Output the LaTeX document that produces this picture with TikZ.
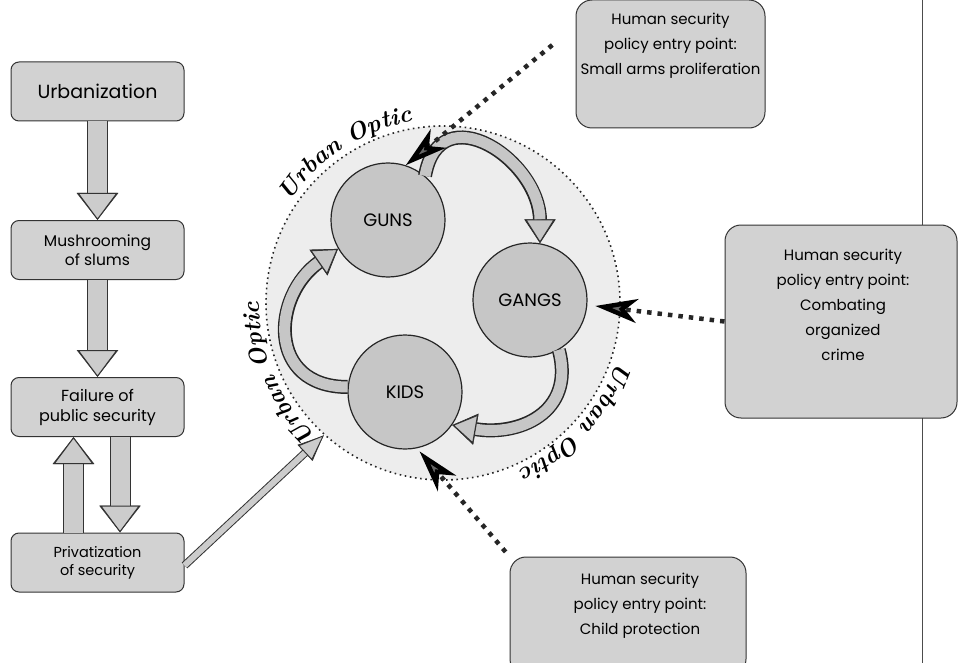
\documentclass[tikz,border=0pt]{standalone}
\usepackage{fontspec}
\newfontfamily\geo{Poppins}
\usetikzlibrary{arrows.meta,decorations.text}

\tikzset{
  stage/.style={draw=black!80, line width=1pt, fill=gray!35, rounded corners=8pt,
    minimum width=173pt, minimum height=59pt, align=center, font=\geo\fontsize{15.5}{19}\selectfont},
  entry/.style={draw=black!80, line width=1pt, fill=gray!35, rounded corners=16pt},
  entrytext/.style={align=center, font=\geo\fontsize{15}{25}\selectfont},
  actor/.style={circle, draw=black!85, line width=1.2pt, fill=gray!45, minimum size=114pt,
    inner sep=0pt, font=\geo\fontsize{18}{18}\selectfont},
  optic ring/.style={circle, minimum size=354pt, fill=gray!14, draw=black!85,
    line width=1.6pt, dash pattern=on 1.6pt off 3.6pt},
  flow/.style={line width=19pt, draw=gray!40,
    -{Triangle[length=27pt,width=40pt,fill=gray!40,color=black!80,line width=1pt]},
    preaction={draw=black!80, line width=21pt, -{Triangle[length=27pt,width=40pt]}}},
  turn/.style={line width=11pt, draw=gray!45,
    -{Triangle[length=24pt,width=30pt,fill=gray!45,color=black!80,line width=1.2pt]},
    preaction={draw=black!85, line width=14pt, -{Triangle[length=24pt,width=30pt]}}},
  feed/.style={line width=6pt, draw=gray!40,
    -{Triangle[length=26pt,width=20pt,fill=gray!40,color=black!80,line width=0.9pt]},
    preaction={draw=black!80, line width=8pt, -{Triangle[length=26pt,width=20pt]}}},
  hit/.style={line width=4.5pt, dash pattern=on 4.5pt off 6pt, black!85,
    -{Stealth[length=42pt,width=24pt,inset=12pt,fill=black!60,color=black]}},
  optic/.style={decorate, decoration={text along path, text align=center,
    text={|\fontsize{24}{24}\selectfont\bfseries\itshape|Urban Optic}}}
}

\begin{document}
\begin{tikzpicture}[x=1pt,y=1pt]
  \useasboundingbox (0,0) rectangle (958,-663);

  % page edge
  \draw[black!70, line width=0.6pt] (922,0) -- (922,-663);

  % the urban optic
  \node[optic ring] (ring) at (443,-303) {};
  \path[optic] (ring.center) ++(153:184) arc[start angle=153, end angle=93, radius=184];
  \path[optic] (ring.center) ++(233:184) arc[start angle=233, end angle=173, radius=184];
  \path[optic] (ring.center) ++(-12:184) arc[start angle=-12, end angle=-72, radius=184];

  \node[actor] (guns) at (388,-220) {GUNS};
  \node[actor] (gangs) at (530,-300) {GANGS};
  \node[actor] (kids) at (405,-392) {KIDS};

  \draw[turn] (guns.50) to[out=80, in=90, looseness=1.6] (gangs.80);
  \draw[turn] (gangs.-60) to[out=-75, in=-10, looseness=1.3] (kids.-35);
  \draw[turn] (kids.175) to[out=180, in=215, looseness=1.5] (guns.210);

  % causes
  \node[stage, font=\geo\fontsize{19}{22}\selectfont] (urb) at (97.5,-91.5) {Urbanization};
  \node[stage] (slum) at (97.5,-250) {Mushrooming\\of slums};
  \node[stage, font=\geo\fontsize{16}{20}\selectfont] (fail) at (97.5,-407) {Failure of\\public security};
  \node[stage, font=\geo\fontsize{14.5}{18}\selectfont] (priv) at (97.5,-562.5) {Privatization\\of security};

  \draw[flow] (urb.south) -- (slum.north);
  \draw[flow] (slum.south) -- (fail.north);
  \draw[flow] ([xshift=22.5pt]fail.south) -- ([xshift=22.5pt]priv.north);
  \draw[flow] ([xshift=-24pt]priv.north) -- ([xshift=-24pt]fail.south);
  \draw[feed] ([yshift=-3pt]priv.east) -- (ring.228);

  % policy entry points
  \node[entry, minimum width=189pt, minimum height=128pt] (sarms) at (670.5,-64) {};
  \node[entrytext, anchor=north] (sarmstxt) at ([yshift=-10pt]sarms.north) {Human security\\policy entry point:\\Small arms proliferation};
  \node[entry, minimum width=232pt, minimum height=193pt] (crime) at (841,-321.5) {};
  \node[entrytext] (crimetxt) at (843,-305) {Human security\\policy entry point:\\Combating\\organized\\crime};
  \node[entry, minimum width=236pt, minimum height=118pt] (child) at (628,-616) {};
  \node[entrytext] (childtxt) at (640,-606) {Human security\\policy entry point:\\Child protection};

  \draw[hit, shorten <=30pt] ([yshift=38pt]sarms.west) -- (guns.72);
  \draw[hit, shorten >=8pt] (crime.west) -- (gangs.-5);
  \draw[hit, shorten <=6pt, shorten >=4pt] (child.north west) -- (kids.-78);
\end{tikzpicture}
\end{document}
